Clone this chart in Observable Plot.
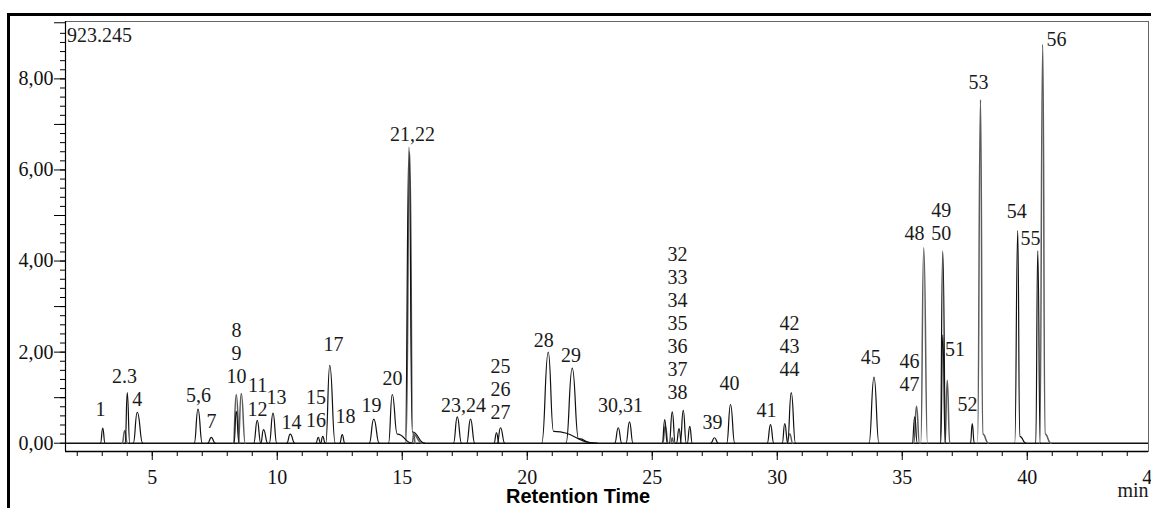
<!DOCTYPE html>
<html><head><meta charset="utf-8">
<script src="https://cdn.jsdelivr.net/npm/d3@7"></script>
<script src="https://cdn.jsdelivr.net/npm/@observablehq/plot@0.6"></script>
<style>
html,body{margin:0;padding:0;background:#fff;overflow:hidden}
#wrap{position:relative;width:1151px;height:508px;background:#fff}
#border{position:absolute;left:7px;top:13px;width:1200px;height:600px;border-left:3px solid #000;border-top:3px solid #000;pointer-events:none}
svg text{font-family:"Liberation Serif","Times New Roman",serif}
svg text.sans{font-family:"Liberation Sans",Arial,sans-serif}
</style></head><body><div id="wrap"><div id="border"></div></div>
<script>
// ---- Peak data (retention time in min, height in signal units) ----
const peakStart = [2.93,3.80,3.92,4.24,6.68,7.22,8.24,8.44,8.27,9.06,9.34,9.68,10.38,11.55,11.73,11.94,12.50,13.68,14.45,15.12,15.15,15.40,17.05,17.58,18.67,18.80,20.58,21.55,23.50,23.95,25.40,25.42,25.68,25.97,26.12,26.40,25.74,27.34,27.98,29.60,30.20,30.41,30.38,33.67,35.40,35.46,35.74,36.52,36.54,36.71,37.73,38.01,39.50,40.34,40.50];
const peakApex  = [3.02,3.90,4.00,4.40,6.83,7.36,8.36,8.56,8.36,9.20,9.45,9.83,10.52,11.64,11.82,12.10,12.60,13.86,14.60,15.27,15.30,15.46,17.20,17.73,18.77,18.93,20.84,21.80,23.64,24.09,25.50,25.52,25.80,26.07,26.24,26.50,25.80,27.49,28.13,29.73,30.30,30.56,30.50,33.87,35.50,35.57,35.86,36.62,36.62,36.80,37.80,38.13,39.62,40.42,40.62];
const peakEnd   = [3.11,4.00,4.10,4.62,7.00,7.52,8.50,8.72,8.47,9.34,9.62,9.98,10.70,11.73,11.92,12.32,12.70,14.08,15.40,15.90,15.80,15.52,17.37,17.90,18.87,19.10,22.80,22.60,23.78,24.23,25.60,25.64,25.92,26.17,26.36,26.60,25.86,27.64,28.30,29.86,30.42,30.73,30.62,34.07,35.60,35.69,36.01,36.74,36.72,36.90,37.88,38.45,39.95,40.52,40.95];
const peakHeight= [0.33,0.28,1.11,0.68,0.75,0.13,1.07,1.09,0.70,0.50,0.30,0.66,0.20,0.13,0.15,1.71,0.19,0.53,1.07,6.50,6.40,0.21,0.58,0.53,0.23,0.34,2.00,1.65,0.34,0.47,0.52,0.37,0.69,0.32,0.72,0.37,0.12,0.12,0.85,0.41,0.43,1.11,0.20,1.45,0.58,0.81,4.29,4.22,2.38,1.38,0.43,7.54,4.67,4.23,8.76];
const peakTrace = ["A","B","A","A","A","A","B","B","A","A","A","A","A","A","A","A","A","A","A","A","B","B","A","A","A","A","A","A","A","A","A","B","A","A","A","A","B","A","A","A","A","A","B","A","A","B","B","A","A","B","A","B","A","A","B"];
// tail (knee) points of tailing peaks: index, time, height
const tailPeak   = [18, 19, 20, 26, 27, 51, 52, 54];
const tailTime   = [14.80, 15.40, 15.42, 21.05, 22.05, 38.22, 39.70, 40.71];
const tailHeight = [0.20, 0.25, 0.20, 0.26, 0.10, 0.20, 0.15, 0.20];

// ---- Peak labels ----
const labelText  = ["1","2.3","4","5,6","7","8\n9\n10","11","12","13","14","15\n16","17","18","19","20","21,22","23,24","25\n26\n27","28","29","30,31","32\n33\n34\n35\n36\n37\n38","39","40","41","42\n43\n44","45","46\n47","48","49\n50","51","52","53","54","55","56"];
const labelTime  = [2.93,3.89,4.40,6.85,7.37,8.37,9.21,9.21,9.97,10.57,11.55,12.25,12.73,13.77,14.61,15.41,17.45,18.93,20.66,21.75,23.73,26.01,27.41,28.09,29.57,30.49,33.74,35.29,35.49,36.56,37.11,37.61,38.05,39.58,40.13,41.17];
const labelValue = [0.76,1.49,0.98,1.07,0.50,1.99,1.29,0.75,1.03,0.48,0.76,2.19,0.61,0.85,1.43,6.80,0.85,1.20,2.27,1.94,0.85,2.65,0.47,1.32,0.74,2.14,1.90,1.55,4.63,4.88,2.08,0.87,7.95,5.11,4.51,8.88];

// ---- Axes ----
const xMajorTicks = [5,10,15,20,25,30,35,40,45];
const xMinorTicks = d3.range(2, 46);
const yMajorTicks = [0,2,4,6,8];
const yMidTicks = [1,3,5,7,9.2325];
const yMinorTicks = d3.range(0, 46).map(i => i / 5);
const yTopLabel = "923.245";
const xTitle = "Retention Time";
const xUnit = "min";
const xDomain = [1.53, 44.85];
const yDomain = [-0.182, 9.26];

// build outline points for each peak
const points = [];
peakApex.forEach((apex, i) => {
  const pts = [{t: peakStart[i], v: 0}, {t: apex, v: peakHeight[i]}];
  const k = tailPeak.indexOf(i);
  if (k >= 0) pts.push({t: tailTime[k], v: tailHeight[k]});
  pts.push({t: peakEnd[i], v: 0});
  pts.forEach(p => points.push({...p, id: i, trace: peakTrace[i]}));
});
const labels = labelText.map((s, i) => ({label: s, t: labelTime[i], v: labelValue[i]}));

const serif = "Liberation Serif";
const chart = Plot.plot({
  width: 1151, height: 508,
  marginLeft: 65, marginRight: 3, marginTop: 21, marginBottom: 57,
  style: {fontSize: "20px", background: "transparent", color: "#111", overflow: "visible"},
  x: {domain: xDomain, label: null},
  y: {domain: yDomain, label: null},
  color: {domain: ["A","B"], range: ["#111","#5c5c5c"]},
  marks: [
    Plot.frame({stroke: "#666", strokeWidth: 1}),
    Plot.ruleX([xDomain[0]], {stroke: "#000", strokeWidth: 1.2}),
    Plot.ruleY([yDomain[0]], {stroke: "#000", strokeWidth: 1.5}),
    Plot.axisX({ticks: xMinorTicks, tickSize: 5, tickFormat: () => "", label: null, stroke: "#000"}),
    Plot.axisX({ticks: xMajorTicks, tickSize: 9, tickPadding: 9, label: null, fontSize: 20, fontFamily: serif, stroke: "#000"}),
    Plot.axisY({ticks: yMinorTicks, tickSize: 5, tickFormat: () => "", label: null, stroke: "#000"}),
    Plot.axisY({ticks: yMidTicks, tickSize: 11, tickFormat: () => "", label: null, stroke: "#000"}),
    Plot.axisY({ticks: yMajorTicks, tickSize: 11, tickPadding: 1, label: null, fontSize: 20, fontFamily: serif, stroke: "#000",
      tickFormat: d => d.toFixed(2).replace(".", ",")}),
    Plot.ruleY([0], {stroke: "#111", strokeWidth: 1.6}),
    Plot.line(points.filter(d => d.trace === "B"), {x: "t", y: "v", z: "id", stroke: "trace", strokeWidth: 1.5, curve: "bump-x"}),
    Plot.line(points.filter(d => d.trace === "A"), {x: "t", y: "v", z: "id", stroke: "trace", strokeWidth: 1.2, curve: "bump-x"}),
    Plot.text(labels, {x: "t", y: "v", text: "label", fontSize: 20, fontFamily: serif, lineHeight: 1.15, lineAnchor: "middle", fill: "#1a1a1a"}),
    Plot.text([yTopLabel], {text: d => d, frameAnchor: "top-left", textAnchor: "start", lineAnchor: "middle", dx: 1.5, dy: 14, fontSize: 20, fontFamily: serif, fill: "#1a1a1a"}),
    Plot.text([xTitle], {text: d => d, frameAnchor: "bottom", textAnchor: "middle", lineAnchor: "middle", dx: -29, dy: 45.5,
      fontFamily: "Liberation Sans", className: "sans", fontWeight: "bold", fontSize: 20, fill: "#000"}),
    Plot.text([xUnit], {text: d => d, frameAnchor: "bottom-right", textAnchor: "end", lineAnchor: "middle", dx: 0, dy: 38.6, fontSize: 20, fontFamily: serif, fill: "#1a1a1a"})
  ]
});
chart.querySelectorAll("text").forEach(t => {
  if (t.textContent === xTitle || (t.parentNode && t.parentNode.textContent === xTitle)) {
    t.style.fontFamily = "'Liberation Sans', Arial, sans-serif";
  } else {
    t.style.fontFamily = "'Liberation Serif', 'Times New Roman', serif";
  }
});
const wrap = document.getElementById("wrap");
chart.style.position = "absolute";
chart.style.left = "0px";
chart.style.top = "0px";
wrap.insertBefore(chart, wrap.firstChild);
</script>
</body></html>
